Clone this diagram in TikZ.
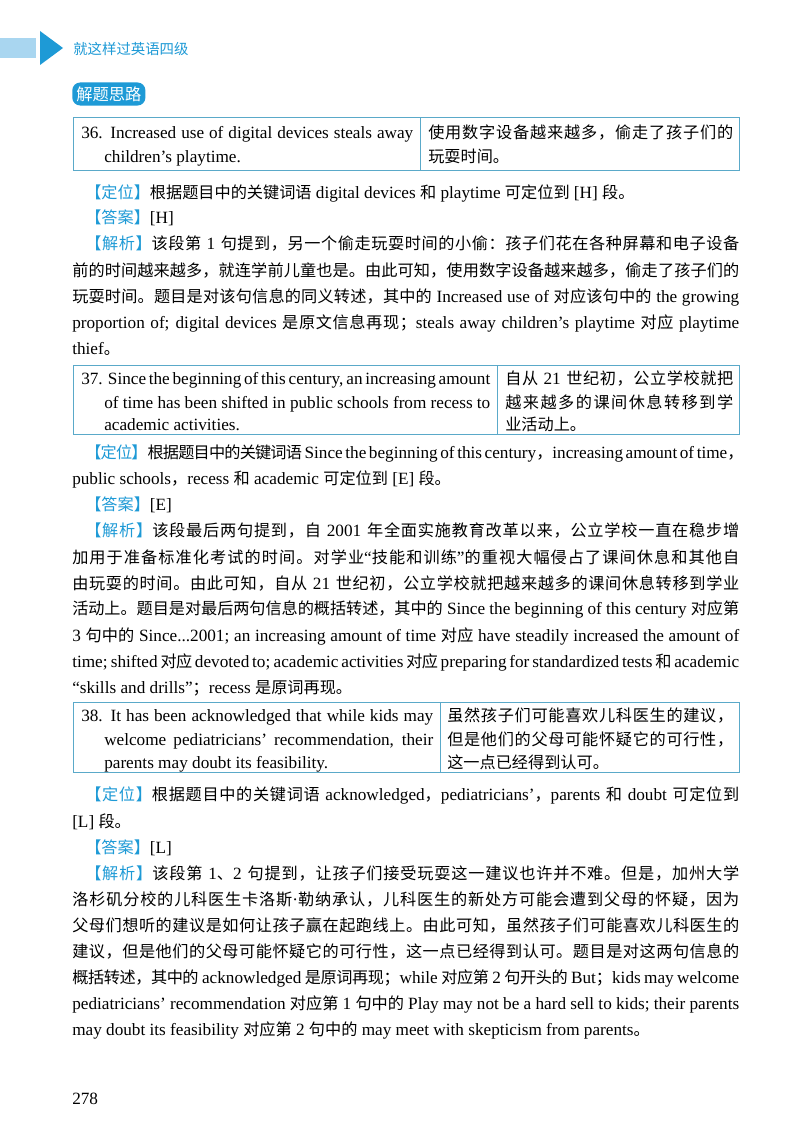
\documentclass[tikz,border=0pt]{standalone}
\usepackage{fontspec}
\setmainfont{Liberation Serif}
\newfontfamily\cjkf[Scale=0.94]{Noto Sans CJK SC}
\newfontfamily\cjkh{Noto Sans CJK SC}
\newfontfamily\latf{Liberation Serif}
\definecolor{hb}{HTML}{1E9AD6}
\definecolor{lb}{HTML}{A9D6F0}
\definecolor{bx}{HTML}{5AA9C9}
\XeTeXinterchartokenstate=1
\newXeTeXintercharclass\cjkc
\count255="4E00 \loop \XeTeXcharclass\count255=\cjkc \ifnum\count255<"9FFF \advance\count255 1 \repeat
\count255="3000 \loop \XeTeXcharclass\count255=\cjkc \ifnum\count255<"303F \advance\count255 1 \repeat
\count255="FF00 \loop \XeTeXcharclass\count255=\cjkc \ifnum\count255<"FFEF \advance\count255 1 \repeat
\XeTeXinterchartoks 0 \cjkc = {\cjkf}
\XeTeXinterchartoks 4095 \cjkc = {\cjkf}
\XeTeXinterchartoks \cjkc 0 = {\latf}
\XeTeXinterchartoks \cjkc 4095 = {\latf}
\XeTeXinterchartoks \cjkc \cjkc = {\hskip0pt plus 2pt minus 0.6pt}
\newcommand\txl[3]{\node[anchor=base west] at (#1,#2) {#3};}
\newcommand\txj[4]{\node[anchor=base west] at (#1,#2) {\spaceskip=0.25em plus 0.3em minus 0.1em\hbox to \dimexpr(#3pt-#1pt)*3/4\relax{#4}};}
\newcommand\lab[1]{{\color{hb}【#1】}}
\begin{document}
\begin{tikzpicture}[x=0.75pt,y=-0.75pt,every node/.style={inner sep=0pt,font=\fontsize{12.9}{16}\selectfont}]
\useasboundingbox (0,0) rectangle (800,1131);
\fill[white] (0,0) rectangle (800,1131);
% header
\fill[lb] (0,38) rectangle (36,58);
\fill[hb] (40,31) -- (63,48) -- (40,65) -- cycle;
\node[anchor=west,text=hb,font=\cjkh\fontsize{11.5}{14}\selectfont] (hdr) at (73,49) {就这样过英语四级};
\node[fill=hb,rounded corners=6pt,text=white,anchor=west,inner xsep=3pt,inner ysep=3pt,font=\cjkh\fontsize{13}{15}\selectfont] (badge) at (72,94) {解题思路};
% box 1
\draw[bx,line width=0.7pt] (73,117) rectangle (739,170) (420,117) -- (420,170);
\txj{81}{138}{413}{36. Increased use of digital devices steals away}
\txl{104}{162}{children’s playtime.}
\txj{428}{138}{733}{使用数字设备越来越多，偷走了孩子们的}
\txl{428}{162}{玩耍时间。}
\txl{85}{198}{\lab{定位}根据题目中的关键词语 digital devices 和 playtime 可定位到 [H] 段。}
\txl{85}{223}{\lab{答案}[H]}
\txj{85}{249}{739}{\lab{解析}该段第 1 句提到，另一个偷走玩耍时间的小偷：孩子们花在各种屏幕和电子设备}
\txj{72}{276}{739}{前的时间越来越多，就连学前儿童也是。由此可知，使用数字设备越来越多，偷走了孩子们的}
\txj{72}{302}{739}{玩耍时间。题目是对该句信息的同义转述，其中的 Increased use of 对应该句中的 the growing}
\txj{72}{328}{739}{proportion of; digital devices 是原文信息再现；steals away children’s playtime 对应 playtime}
\txl{72}{354}{thief。}
% box 2
\draw[bx,line width=0.7pt] (73,365) rectangle (739,434) (497,365) -- (497,434);
\txj{81}{384}{490}{37. Since the beginning of this century, an increasing amount}
\txj{104}{408}{490}{of time has been shifted in public schools from recess to}
\txl{104}{430}{academic activities.}
\txj{505}{384}{733}{自从 21 世纪初，公立学校就把}
\txj{505}{408}{733}{越来越多的课间休息转移到学}
\txl{505}{430}{业活动上。}
\txj{85}{458}{739}{\lab{定位}根据题目中的关键词语 Since the beginning of this century，increasing amount of time，}
\txl{72}{484}{public schools，recess 和 academic 可定位到 [E] 段。}
\txl{85}{510}{\lab{答案}[E]}
\txj{85}{536}{739}{\lab{解析}该段最后两句提到，自 2001 年全面实施教育改革以来，公立学校一直在稳步增}
\txj{72}{563}{739}{加用于准备标准化考试的时间。对学业“技能和训练”的重视大幅侵占了课间休息和其他自}
\txj{72}{589}{739}{由玩耍的时间。由此可知，自从 21 世纪初，公立学校就把越来越多的课间休息转移到学业}
\txj{72}{614}{739}{活动上。题目是对最后两句信息的概括转述，其中的 Since the beginning of this century 对应第}
\txj{72}{641}{739}{3 句中的 Since...2001; an increasing amount of time 对应 have steadily increased the amount of}
\txj{72}{667}{739}{time; shifted 对应 devoted to; academic activities 对应 preparing for standardized tests 和 academic}
\txl{72}{693}{“skills and drills”；recess 是原词再现。}
% box 3
\draw[bx,line width=0.7pt] (73,702) rectangle (739,772) (440,702) -- (440,772);
\txj{81}{721}{433}{38. It has been acknowledged that while kids may}
\txj{104}{745}{433}{welcome pediatricians’ recommendation, their}
\txl{104}{768}{parents may doubt its feasibility.}
\txj{447}{721}{733}{虽然孩子们可能喜欢儿科医生的建议，}
\txj{447}{745}{733}{但是他们的父母可能怀疑它的可行性，}
\txl{447}{768}{这一点已经得到认可。}
\txj{85}{800}{739}{\lab{定位}根据题目中的关键词语 acknowledged，pediatricians’，parents 和 doubt 可定位到}
\txl{72}{827}{[L] 段。}
\txl{85}{853}{\lab{答案}[L]}
\txj{85}{879}{739}{\lab{解析}该段第 1、2 句提到，让孩子们接受玩耍这一建议也许并不难。但是，加州大学}
\txj{72}{905}{739}{洛杉矶分校的儿科医生卡洛斯·勒纳承认，儿科医生的新处方可能会遭到父母的怀疑，因为}
\txj{72}{931}{739}{父母们想听的建议是如何让孩子赢在起跑线上。由此可知，虽然孩子们可能喜欢儿科医生的}
\txj{72}{957}{739}{建议，但是他们的父母可能怀疑它的可行性，这一点已经得到认可。题目是对这两句信息的}
\txj{72}{983}{739}{概括转述，其中的 acknowledged 是原词再现；while 对应第 2 句开头的 But；kids may welcome}
\txj{72}{1009}{739}{pediatricians’ recommendation 对应第 1 句中的 Play may not be a hard sell to kids; their parents}
\txl{72}{1035}{may doubt its feasibility 对应第 2 句中的 may meet with skepticism from parents。}
\txl{72}{1104}{278}
\end{tikzpicture}
\end{document}
